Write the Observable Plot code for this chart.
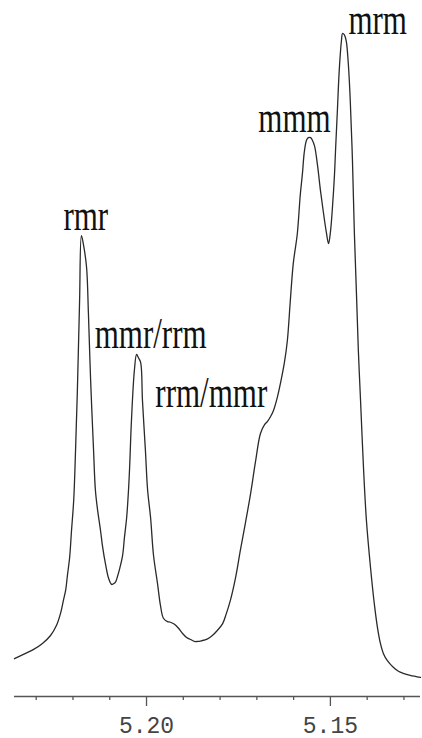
<!DOCTYPE html>
<html><head><meta charset="utf-8">
<style>
html,body{margin:0;padding:0;background:#fff;} svg{display:block}
.major-axis text{font-family:"Liberation Mono",monospace;font-size:23px;fill:#444;}
</style>
<script src="https://cdn.jsdelivr.net/npm/d3@7"></script>
<script src="https://cdn.jsdelivr.net/npm/@observablehq/plot@0.6"></script>
</head><body><div id="chart"></div>
<script>
// chemical shift (ppm) and relative intensity
const ppm = [5.2359,5.2329,5.2307,5.2283,5.2261,5.2245,5.2234,5.2226,5.2220,5.2215,5.2209,5.2204,5.2198,5.2193,5.2188,5.2182,5.2177,5.2171,5.2163,5.2158,5.2152,5.2144,5.2139,5.2133,5.2125,5.2120,5.2111,5.2103,5.2095,5.2090,5.2084,5.2079,5.2073,5.2065,5.2060,5.2054,5.2049,5.2046,5.2041,5.2033,5.2027,5.2022,5.2016,5.2011,5.2003,5.1997,5.1989,5.1981,5.1970,5.1962,5.1954,5.1943,5.1935,5.1924,5.1913,5.1902,5.1891,5.1880,5.1870,5.1861,5.1851,5.1834,5.1821,5.1807,5.1793,5.1783,5.1772,5.1758,5.1745,5.1731,5.1717,5.1704,5.1690,5.1679,5.1671,5.1663,5.1655,5.1644,5.1636,5.1625,5.1617,5.1609,5.1601,5.1590,5.1582,5.1576,5.1571,5.1565,5.1560,5.1554,5.1549,5.1543,5.1535,5.1527,5.1519,5.1511,5.1505,5.1500,5.1495,5.1489,5.1486,5.1481,5.1476,5.1470,5.1467,5.1462,5.1457,5.1451,5.1446,5.1440,5.1435,5.1429,5.1424,5.1418,5.1410,5.1402,5.1391,5.1380,5.1372,5.1364,5.1356,5.1345,5.1329,5.1315,5.1302,5.1283,5.1255];
const intensity = [5.7,6.5,7.1,8.0,9.2,10.7,12.5,14.5,16.0,18.3,21.0,25.0,29.6,37.1,46.2,59.7,69.5,68.0,64.7,57.8,47.7,37.1,31.1,28.1,25.0,22.8,19.8,17.8,16.9,17.0,17.3,18.1,19.3,21.3,24.0,27.0,31.1,34.5,41.6,49.2,51.6,51.1,50.4,44.6,37.1,31.1,27.0,21.3,17.0,13.7,11.8,11.3,11.2,10.9,10.3,9.5,8.9,8.6,8.3,8.3,8.4,8.7,9.2,10.0,11.0,12.5,14.5,17.9,22.0,26.2,30.6,35.3,39.7,41.0,41.5,42.2,43.1,45.2,47.2,50.4,53.7,59.7,65.3,69.8,75.6,78.9,82.1,83.9,84.3,84.3,83.9,83.0,80.1,76.3,73.0,70.0,68.3,70.0,73.3,78.6,82.4,88.4,94.4,98.9,100,99.8,98.9,95.2,89.9,80.8,70.3,60.5,52.2,44.6,34.5,26.5,19.5,13.7,10.4,8.0,6.5,5.4,4.4,3.8,3.5,3.2,2.9];
const majorTicks = [5.20, 5.15];
const minorTicks = [5.23, 5.22, 5.21, 5.19, 5.18, 5.17, 5.16, 5.14, 5.13];
const peakLabels = ["rmr", "mmr/rrm", "rrm/mmr", "mmm", "mrm"];
const labelPpm = [5.2226, 5.2141, 5.1976, 5.1696, 5.1451];
const labelIntensity = [70.3, 52.5, 43.6, 85.1, 100];

const spectrum = ppm.map((p, i) => ({ppm: p, intensity: intensity[i]}));
const labels = peakLabels.map((t, i) => ({text: t, ppm: labelPpm[i], intensity: labelIntensity[i]}));

const chart = Plot.plot({
  width: 422, height: 738,
  marginLeft: 14, marginRight: 2, marginTop: 33, marginBottom: 42,
  style: {fontFamily: "Liberation Mono", background: "#fff"},
  x: {domain: [5.2359, 5.1255], axis: null, label: null},
  y: {domain: [0, 100], axis: null, label: null},
  marks: [
    Plot.ruleY([0], {stroke: "#555", strokeWidth: 1.5}),
    Plot.axisX({ticks: minorTicks, tickSize: 4, tickFormat: () => "", label: null, stroke: "#555", strokeWidth: 1.3}),
    Plot.axisX({ticks: majorTicks, tickSize: 10, tickPadding: 10, tickFormat: d3.format(".2f"), label: null,
      stroke: "#555", strokeWidth: 1.3, fill: "#444", className: "major-axis"}),
    Plot.line(spectrum, {x: "ppm", y: "intensity", stroke: "#2a2a2a", strokeWidth: 1.3, curve: "catmull-rom"}),
    Plot.text(labels, {x: "ppm", y: "intensity", text: "text", textAnchor: "start",
      fontFamily: "Liberation Serif", fontSize: 31, fill: "#111", className: "peak-label"})
  ]
});
document.getElementById("chart").appendChild(chart);
// serif labels appear vertically stretched in the reference
d3.select(chart).selectAll(".peak-label text").each(function () {
  const t = this.getAttribute("transform") || "";
  this.setAttribute("transform", t + " scale(1,1.42)");
  this.removeAttribute("dy");
  this.removeAttribute("y");
});
</script>
</body></html>
